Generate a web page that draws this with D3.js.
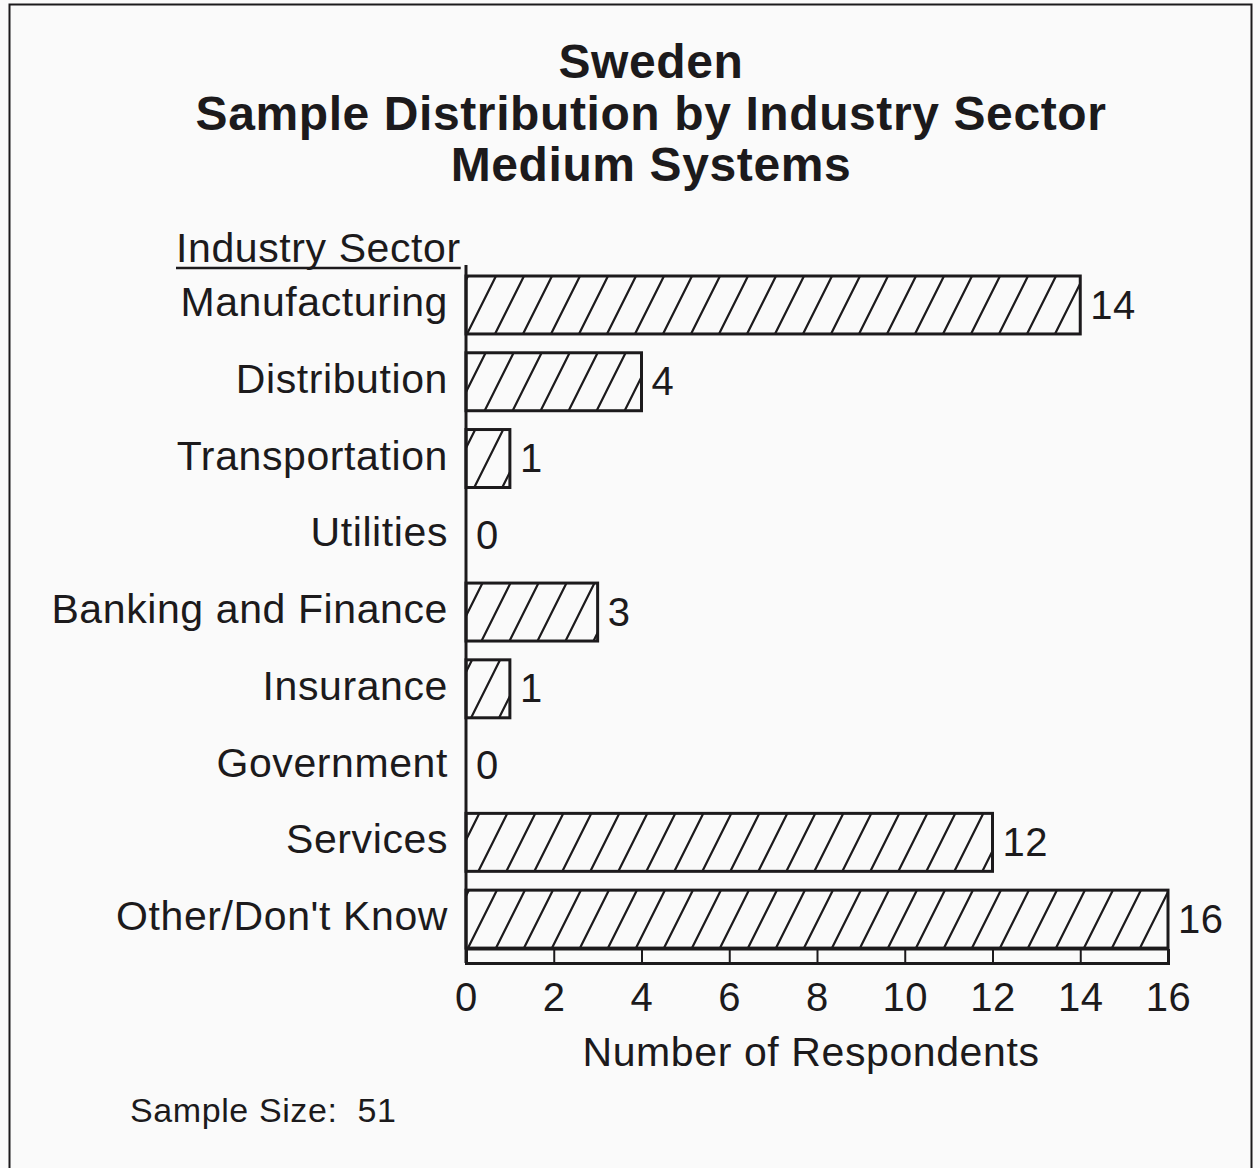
<!DOCTYPE html>
<html>
<head>
<meta charset="utf-8">
<script src="https://cdn.jsdelivr.net/npm/d3@7/dist/d3.min.js"></script>
<style>
  html, body { margin: 0; padding: 0; background: #fafafa; }
  svg { display: block; font-family: "Liberation Sans", Arial, Helvetica, sans-serif; }
  svg text { white-space: pre; letter-spacing: 0.6px; }
</style>
</head>
<body>
<svg id="chart" width="1260" height="1168"></svg>
<script>
// Survey sample: respondents per industry sector (Sweden, medium systems)
const sectors = ["Manufacturing", "Distribution", "Transportation", "Utilities",
  "Banking and Finance", "Insurance", "Government", "Services", "Other/Don't Know"];
const respondents = [14, 4, 1, 0, 3, 1, 0, 12, 16];
const xTicks = [0, 2, 4, 6, 8, 10, 12, 14, 16];
const titleLines = ["Sweden", "Sample Distribution by Industry Sector", "Medium Systems"];
const axisTitle = "Number of Respondents";
const categoryHeader = "Industry Sector";
const sampleNote = "Sample Size:  51";

const ink = "#1c1a1c";
const svg = d3.select("#chart");

// outer frame
svg.append("rect")
  .attr("x", 9.5).attr("y", 4.5)
  .attr("width", 1242).attr("height", 1180)
  .attr("fill", "none").attr("stroke", ink).attr("stroke-width", 2);

// diagonal hatch fill
const defs = svg.append("defs");
const pw = 28, ph = 56;
defs.append("pattern")
  .attr("id", "hatch")
  .attr("patternUnits", "userSpaceOnUse")
  .attr("x", 466).attr("y", 0)
  .attr("width", pw).attr("height", ph)
  .append("path")
  .attr("d", `M${-pw},${ph} L${pw},${-ph} M0,${ph} L${pw},0 M0,${2 * ph} L${2 * pw},0`)
  .attr("stroke", ink).attr("stroke-width", 2.2).attr("fill", "none");

const x = d3.scaleLinear().domain([0, 16]).range([466, 1168]);
const y = d3.scaleBand().domain(sectors)
  .range([266.6, 957.5]).paddingInner(0.245).paddingOuter(0.1225);

// title
svg.append("g").selectAll("text").data(titleLines).join("text")
  .attr("x", 651).attr("y", (d, i) => 78 + i * 51.5)
  .attr("text-anchor", "middle")
  .attr("font-size", 48).attr("font-weight", "bold")
  .attr("fill", ink)
  .text(d => d);

// bars
svg.append("g").selectAll("rect").data(sectors).join("rect")
  .attr("x", x(0))
  .attr("y", d => y(d))
  .attr("width", (d, i) => x(respondents[i]) - x(0))
  .attr("height", y.bandwidth())
  .attr("fill", "url(#hatch)")
  .attr("stroke", ink).attr("stroke-width", 3);

// value labels
svg.append("g").selectAll("text").data(sectors).join("text")
  .attr("x", (d, i) => x(respondents[i]) + 10)
  .attr("y", d => y(d) + y.bandwidth() / 2)
  .attr("dy", "0.34em")
  .attr("font-size", 40).attr("fill", ink)
  .text((d, i) => respondents[i]);

// category labels
svg.append("g").selectAll("text").data(sectors).join("text")
  .attr("x", 448)
  .attr("y", d => y(d) + y.bandwidth() / 2)
  .attr("dy", "0.27em")
  .attr("text-anchor", "end")
  .attr("font-size", 41).attr("fill", ink)
  .text(d => d);

// category header, underlined
const hdr = svg.append("text")
  .attr("x", 176).attr("y", 262)
  .attr("font-size", 41).attr("fill", ink)
  .text(categoryHeader);
const hb = hdr.node().getBBox();
svg.append("line")
  .attr("x1", hb.x).attr("x2", hb.x + hb.width)
  .attr("y1", 268).attr("y2", 268)
  .attr("stroke", ink).attr("stroke-width", 2.5);

// vertical category axis line
svg.append("line")
  .attr("x1", x(0)).attr("x2", x(0))
  .attr("y1", 265).attr("y2", 963)
  .attr("stroke", ink).attr("stroke-width", 3);

// x axis drawn as a narrow ruled band with ticks
const axisY = 963;
svg.append("line")
  .attr("x1", x(0)).attr("x2", x(16))
  .attr("y1", axisY - 14).attr("y2", axisY - 14)
  .attr("stroke", ink).attr("stroke-width", 3);
const ax = svg.append("g")
  .attr("transform", `translate(0,${axisY})`)
  .call(d3.axisBottom(x).tickValues(xTicks).tickSizeInner(-14).tickSizeOuter(-14).tickPadding(20));
ax.select(".domain").attr("stroke", ink).attr("stroke-width", 3);
ax.selectAll(".tick line").attr("stroke", ink).attr("stroke-width", 2);
ax.selectAll(".tick text")
  .attr("font-size", 40).attr("fill", ink)
  .attr("font-family", "Liberation Sans, Arial, sans-serif");

// axis title
svg.append("text")
  .attr("x", 811).attr("y", 1066)
  .attr("text-anchor", "middle")
  .attr("font-size", 41).attr("fill", ink)
  .text(axisTitle);

// sample size note
svg.append("text")
  .attr("x", 130).attr("y", 1122)
  .attr("font-size", 34).attr("fill", ink)
  .text(sampleNote);
</script>
</body>
</html>
